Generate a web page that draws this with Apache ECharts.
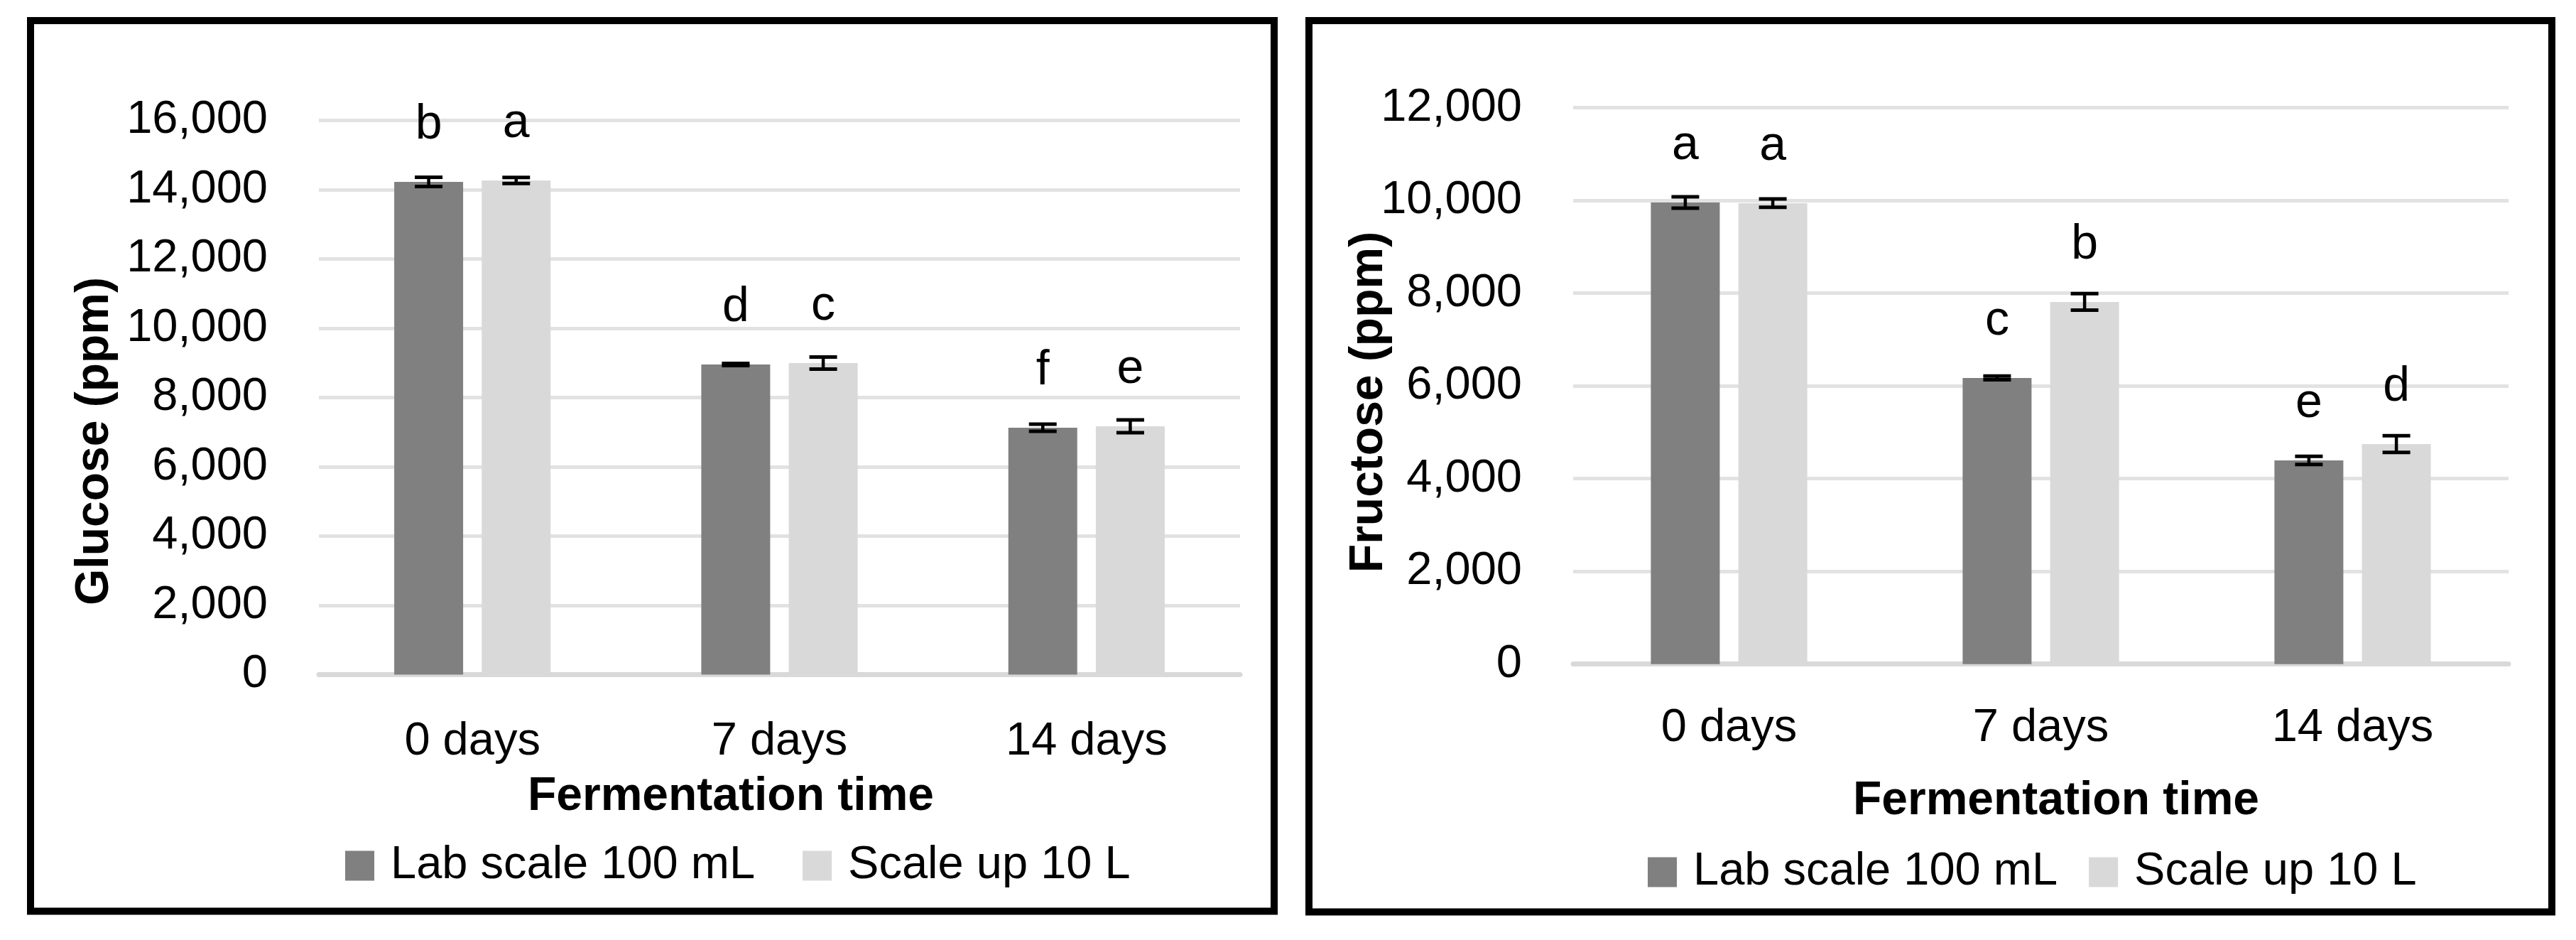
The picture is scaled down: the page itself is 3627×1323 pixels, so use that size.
<!DOCTYPE html>
<html>
<head>
<meta charset="utf-8">
<script src="https://cdn.jsdelivr.net/npm/echarts@6/dist/echarts.min.js"></script>
<style>
html,body{margin:0;padding:0;background:#fff;}
#chart{width:3627px;height:1323px;}
</style>
</head>
<body>
<div id="chart"></div>
<script>
// ---------- data ----------
const categories = ['0 days', '7 days', '14 days'];
const seriesNames = ['Lab scale 100 mL', 'Scale up 10 L'];

const glucoseLab = [14226, 8954, 7128];
const glucoseScale = [14267, 8995, 7169];
const glucoseLabSD = [133, 31, 103];
const glucoseScaleSD = [88, 172, 185];
const glucoseLabLetters = ['b', 'd', 'f'];
const glucoseScaleLetters = ['a', 'c', 'e'];
const glucoseTicks = [0, 2000, 4000, 6000, 8000, 10000, 12000, 14000, 16000];

const fructoseLab = [9957, 6172, 4394];
const fructoseScale = [9942, 7812, 4746];
const fructoseLabSD = [123, 40, 87];
const fructoseScaleSD = [90, 178, 181];
const fructoseLabLetters = ['a', 'c', 'e'];
const fructoseScaleLetters = ['a', 'b', 'd'];
const fructoseTicks = [0, 2000, 4000, 6000, 8000, 10000, 12000];

const yTitles = ['Glucose (ppm)', 'Fructose (ppm)'];
const xTitle = 'Fermentation time';

// ---------- style ----------
const FONT = 'Liberation Sans, Arial, sans-serif';
const DARK = '#808080';
const LIGHT = '#d9d9d9';
const BAR_W = 97;
const GAP_RATIO = 0.27;
const ERR_OFFSET = (BAR_W + BAR_W * GAP_RATIO) / 2;

const chart = echarts.init(document.getElementById('chart'), null, {renderer: 'canvas'});

function yAxisFor(ticks, gridIndex) {
  return {
    type: 'value', gridIndex: gridIndex,
    min: ticks[0], max: ticks[ticks.length - 1], interval: ticks[1] - ticks[0],
    axisLine: {show: false}, axisTick: {show: false},
    axisLabel: {
      margin: 72, color: '#000', fontFamily: FONT, fontSize: 65,
      formatter: v => v.toLocaleString('en-US')
    },
    splitLine: {lineStyle: {color: '#e2e2e2', width: 5}}
  };
}
function xAxisFor(gridIndex, margin) {
  return {
    type: 'category', gridIndex: gridIndex, data: categories,
    axisLine: {lineStyle: {color: '#d9d9d9', width: 7}},
    axisTick: {show: false},
    axisLabel: {margin: margin, color: '#000', fontFamily: FONT, fontSize: 65}
  };
}
function barSeries(name, data, letters, axisIdx, color) {
  return {
    type: 'bar', name: name, xAxisIndex: axisIdx, yAxisIndex: axisIdx,
    data: data, barWidth: BAR_W, barGap: (GAP_RATIO * 100) + '%',
    itemStyle: {color: color},
    label: {
      show: true, position: 'top', distance: 46,
      formatter: p => letters[p.dataIndex],
      color: '#000', fontFamily: FONT, fontSize: 68, lineHeight: 68
    },
    z: 2
  };
}
function errSeries(values, sds, axisIdx, side) {
  return {
    type: 'custom', xAxisIndex: axisIdx, yAxisIndex: axisIdx,
    data: values.map((v, i) => [i, v, sds[i]]),
    encode: {x: 0, y: 1},
    silent: true, z: 10,
    renderItem: function (params, api) {
      const i = api.value(0), v = api.value(1), sd = api.value(2);
      const hi = api.coord([i, v + sd]);
      const lo = api.coord([i, v - sd]);
      const cx = hi[0] + side * ERR_OFFSET;
      const half = 19.5;
      const st = {stroke: '#000', lineWidth: 5};
      return {
        type: 'group',
        children: [
          {type: 'line', shape: {x1: cx, y1: hi[1], x2: cx, y2: lo[1]}, style: {stroke: '#000', lineWidth: 4.5}},
          {type: 'line', shape: {x1: cx - half, y1: hi[1], x2: cx + half, y2: hi[1]}, style: st},
          {type: 'line', shape: {x1: cx - half, y1: lo[1], x2: cx + half, y2: lo[1]}, style: st}
        ]
      };
    }
  };
}
function legendFor(left, top, gap) {
  return {
    data: seriesNames, left: left, top: top, orient: 'horizontal',
    icon: 'rect', itemWidth: 41, itemHeight: 42, itemGap: gap,
    selectedMode: false,
    textStyle: {color: '#000', fontFamily: FONT, fontSize: 65, padding: [0, 0, 0, 18]}
  };
}

const option = {
  backgroundColor: '#fff',
  animation: false,
  grid: [
    {left: 449, top: 169.5, width: 1297, height: 780},
    {left: 2215, top: 151.7, width: 1317, height: 783}
  ],
  xAxis: [xAxisFor(0, 62), xAxisFor(1, 58)],
  yAxis: [yAxisFor(glucoseTicks, 0), yAxisFor(fructoseTicks, 1)],
  legend: [legendFor(481, 1181, 67), legendFor(2315, 1190, 44)],
  series: [
    barSeries(seriesNames[0], glucoseLab, glucoseLabLetters, 0, DARK),
    barSeries(seriesNames[1], glucoseScale, glucoseScaleLetters, 0, LIGHT),
    errSeries(glucoseLab, glucoseLabSD, 0, -1),
    errSeries(glucoseScale, glucoseScaleSD, 0, 1),
    barSeries(seriesNames[0], fructoseLab, fructoseLabLetters, 1, DARK),
    barSeries(seriesNames[1], fructoseScale, fructoseScaleLetters, 1, LIGHT),
    errSeries(fructoseLab, fructoseLabSD, 1, -1),
    errSeries(fructoseScale, fructoseScaleSD, 1, 1)
  ],
  graphic: [
    {type: 'rect', shape: {x: 43, y: 29, width: 1751, height: 1253.5},
     style: {fill: 'none', stroke: '#000', lineWidth: 10}, silent: true},
    {type: 'rect', shape: {x: 1843, y: 29, width: 1750, height: 1254.5},
     style: {fill: 'none', stroke: '#000', lineWidth: 10}, silent: true},
    {type: 'text', x: 134, y: 621, rotation: Math.PI / 2,
     style: {text: yTitles[0], fill: '#000', font: 'bold 66px ' + FONT, textAlign: 'center', textVerticalAlign: 'middle'}},
    {type: 'text', x: 1928, y: 566, rotation: Math.PI / 2,
     style: {text: yTitles[1], fill: '#000', font: 'bold 66px ' + FONT, textAlign: 'center', textVerticalAlign: 'middle'}},
    {type: 'text', x: 1029, y: 1122, 
     style: {text: xTitle, fill: '#000', font: 'bold 66px ' + FONT, textAlign: 'center', textVerticalAlign: 'middle'}},
    {type: 'text', x: 2895, y: 1128,
     style: {text: xTitle, fill: '#000', font: 'bold 66px ' + FONT, textAlign: 'center', textVerticalAlign: 'middle'}}
  ]
};
chart.setOption(option);
</script>
</body>
</html>
